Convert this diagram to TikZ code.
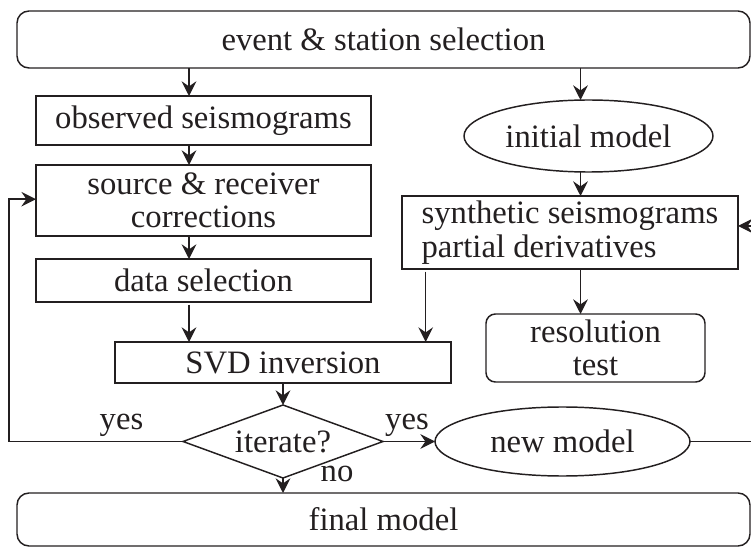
\documentclass[tikz,border=0pt]{standalone}
\usepackage{fontspec}
\setmainfont{Liberation Serif}
\usetikzlibrary{arrows.meta,shapes.geometric}
\definecolor{ink}{RGB}{35,31,32}
\begin{document}
\begin{tikzpicture}[x=0.75pt,y=-0.75pt,
  every node/.style={inner sep=0pt,outer sep=0pt,text=ink,font=\fontsize{24.5}{25}\selectfont},
  sq/.style={draw=ink,line width=1.1pt,rectangle},
  rnd/.style={draw=ink,line width=1.1pt,rectangle,rounded corners=9pt},
  ell/.style={draw=ink,line width=1.1pt,ellipse},
  dia/.style={draw=ink,line width=1.1pt,diamond,aspect=2.74},
  lbl/.style={anchor=base},
  arr/.style={draw=ink,line width=1pt,-{Stealth[length=11pt,width=11pt,inset=3.8pt]}},
  ln/.style={draw=ink,line width=1pt}]
\useasboundingbox (0,0) rectangle (751,549);
\node[rnd,minimum width={733*0.75pt},minimum height={57*0.75pt}] (top) at (383.5,39.5) {event \& station selection};
\node[sq,minimum width={335*0.75pt},minimum height={49*0.75pt}] (obs) at (203.5,120.5) {observed seismograms};
\node[sq,minimum width={335*0.75pt},minimum height={71*0.75pt},align=center] (src) at (203.5,200.5) {source \& receiver\\corrections};
\node[sq,minimum width={335*0.75pt},minimum height={43*0.75pt}] (data) at (203.5,280.5) {data selection};
\node[sq,minimum width={336*0.75pt},minimum height={41*0.75pt}] (svd) at (283,362.5) {SVD inversion};
\node[ell,minimum width={249*0.75pt},minimum height={72*0.75pt}] (init) at (588.5,136) {initial model};
\node[sq,minimum width={336*0.75pt},minimum height={73*0.75pt},align=left] (syn) at (570,232.5) {synthetic seismograms\\partial derivatives};
\node[rnd,rounded corners=7pt,minimum width={219*0.75pt},minimum height={68*0.75pt},align=center] (res) at (595.5,348) {resolution\\test};
\node[dia,minimum width={200*0.75pt},minimum height={73*0.75pt}] (it) at (283,441.5) {iterate?};
\node[ell,minimum width={255*0.75pt},minimum height={69*0.75pt}] (nm) at (562.5,441.5) {new model};
\node[rnd,minimum width={733*0.75pt},minimum height={53*0.75pt}] (fin) at (383.5,519.5) {final model};
\node[lbl] (yesL) at (121.5,430) {yes};
\node[lbl] (yesR) at (407,430) {yes};
\node[lbl] (no) at (337,481) {no};
\coordinate (cA) at (189,0);
\coordinate (cB) at (580.5,0);
\coordinate (cC) at (425.7,0);
\coordinate (cL) at (9,0);
\coordinate (cR) at (753,0);
\draw[arr] (top.south -| cA) -- (obs.north -| cA);
\draw[arr] (obs.south -| cA) -- (src.north -| cA);
\draw[arr] (src.south -| cA) -- (data.north -| cA);
\draw[arr,shorten <=2pt] (data.south -| cA) -- (svd.north -| cA);
\draw[arr] (top.south -| cB) -- (init.north -| cB);
\draw[arr] (init.south -| cB) -- (syn.north -| cB);
\draw[arr] (syn.south -| cB) -- (res.north -| cB);
\draw[arr,shorten <=2pt] (syn.south -| cC) -- (svd.north -| cC);
\draw[arr] (svd.south) -- (it.north);
\draw[arr] (it.south) -- (fin.north -| it.south);
\draw[arr] (it.east) -- (nm.west);
\draw[arr] (it.west) -- (cL |- it.west) |- ([yshift=1pt]src.west);
\draw[arr] (nm.east) -- (cR |- nm.east) |- ([yshift=4.9pt]syn.east);
\end{tikzpicture}
\end{document}
